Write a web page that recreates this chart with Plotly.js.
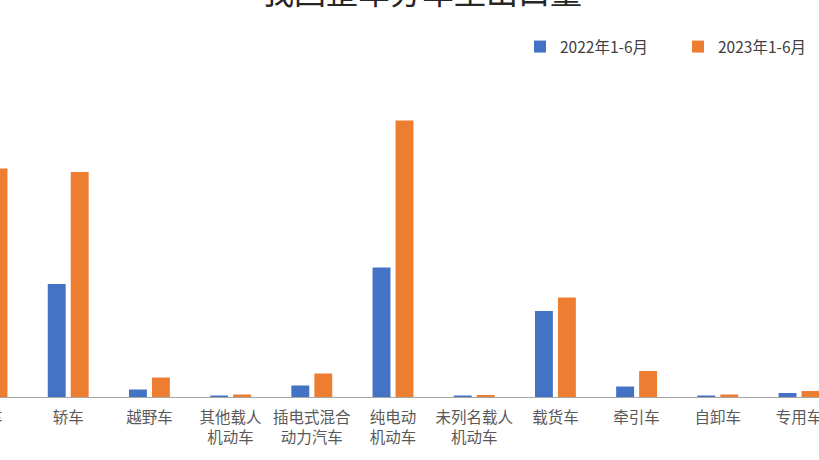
<!DOCTYPE html>
<html>
<head>
<meta charset="utf-8">
<script src="https://cdn.plot.ly/plotly-3.0.1.min.js"></script>
<style>
  html, body { margin: 0; padding: 0; background: #fff; }
  body { width: 819px; height: 460px; overflow: hidden; position: relative; }
  /* the reference is a cut-out of a larger chart, so the chart is drawn bigger and shifted */
  #chart { position: absolute; left: -60px; top: -30px; width: 960px; height: 520px; }
</style>
</head>
<body>
<div id="chart"></div>
<script>
// 单位：万辆（按图中柱高估读）
const categories = ['客车', '轿车', '越野车', '其他载人<br>机动车', '插电式混合<br>动力汽车',
    '纯电动<br>机动车', '未列名载人<br>机动车', '载货车', '牵引车', '自卸车', '专用车'];
const h1_2022 = [22.0, 22.6, 1.5, 0.3, 2.3, 25.9, 0.3, 17.2, 2.1, 0.3, 0.8];
const h1_2023 = [45.7, 45.0, 3.9, 0.5, 4.7, 55.3, 0.4, 19.9, 5.2, 0.5, 1.2];
const seriesNames = ['2022年1-6月', '2023年1-6月'];
const chartTitle = '我国整车分车型出口量';

const fontCJK = '"Noto Sans CJK SC", "Noto Sans", sans-serif';

const data = [
    { x: categories, y: h1_2022, name: seriesNames[0], type: 'bar',
      marker: { color: '#4472c4' }, hoverinfo: 'skip' },
    { x: categories, y: h1_2023, name: seriesNames[1], type: 'bar',
      marker: { color: '#ed7d31' }, hoverinfo: 'skip' }
];

const layout = {
    width: 960, height: 520,
    margin: { l: 0, r: 0, t: 100, b: 93 },
    paper_bgcolor: '#fff', plot_bgcolor: '#fff',
    font: { family: fontCJK, color: '#595959' },
    title: {
        text: chartTitle,
        font: { family: fontCJK, size: 32, color: '#262626' },
        x: 482 / 960, xanchor: 'center',
        y: 1 - 34 / 520, yref: 'container', yanchor: 'bottom'
    },
    barmode: 'group',
    bargap: 0.434,
    bargroupgap: 0.22,
    showlegend: true,
    legend: {
        orientation: 'h',
        x: 580 / 960, xanchor: 'left',
        y: 1 + 23 / 327, yanchor: 'middle',
        font: { family: fontCJK, size: 15.5, color: '#404040' },
        entrywidth: 113, entrywidthmode: 'pixels',
        itemclick: false, itemdoubleclick: false
    },
    xaxis: {
        type: 'category',
        range: [-0.579, 11.244],
        showline: true, linecolor: '#a6a6a6', linewidth: 1,
        showgrid: false, zeroline: false,
        ticks: '', ticklabelstandoff: 6,
        tickangle: 0,
        tickfont: { family: fontCJK, size: 15.5, color: '#595959' },
        fixedrange: true
    },
    yaxis: {
        range: [0, 65.4],
        visible: false,
        showgrid: false, zeroline: false,
        fixedrange: true
    }
};

Plotly.newPlot('chart', data, layout, { staticPlot: true, displayModeBar: false });
</script>
</body>
</html>
